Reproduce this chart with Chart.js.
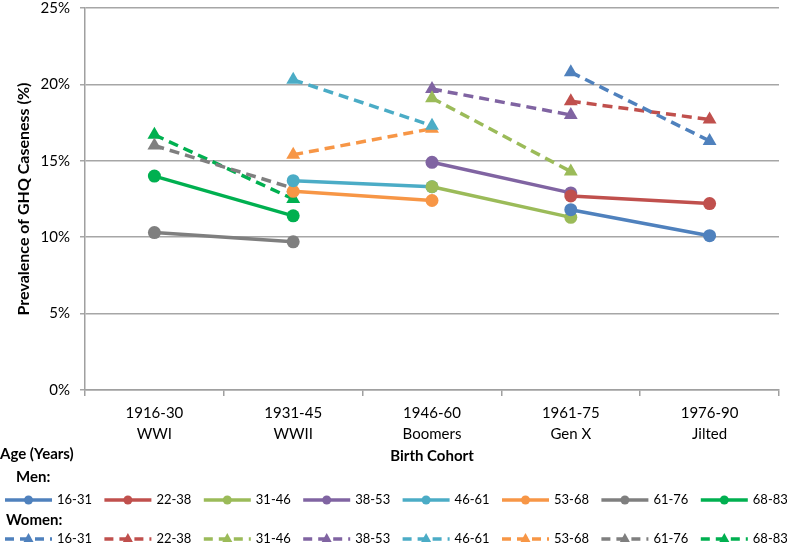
<!DOCTYPE html>
<html>
<head>
<meta charset="utf-8">
<script src="https://cdn.jsdelivr.net/npm/chart.js@4"></script>
<style>
  html, body { margin: 0; background: #fff; }
  #wrap { width: 787px; height: 544px; }
</style>
</head>
<body>
<div id="wrap"><canvas id="grafico"></canvas></div>
<script>
const cohortes = [['1916-30', 'WWI'], ['1931-45', 'WWII'], ['1946-60', 'Boomers'], ['1961-75', 'Gen X'], ['1976-90', 'Jilted']];
const edades = ['16-31', '22-38', '31-46', '38-53', '46-61', '53-68', '61-76', '68-83'];
const colores = ['#4F81BD', '#C0504D', '#9BBB59', '#8064A2', '#4BACC6', '#F79646', '#7F7F7F', '#00B050'];

// prevalencia (%) por cohorte, hombres
const hombres = [
  [null, null, null, 11.8, 10.1],
  [null, null, null, 12.7, 12.2],
  [null, null, 13.3, 11.3, null],
  [null, null, 14.9, 12.9, null],
  [null, 13.7, 13.3, null, null],
  [null, 13.0, 12.4, null, null],
  [10.3, 9.7, null, null, null],
  [14.0, 11.4, null, null, null]
];
// prevalencia (%) por cohorte, mujeres
const mujeres = [
  [null, null, null, 20.8, 16.3],
  [null, null, null, 18.9, 17.7],
  [null, null, 19.1, 14.3, null],
  [null, null, 19.7, 18.0, null],
  [null, 20.3, 17.3, null, null],
  [null, 15.4, 17.1, null, null],
  [16.0, 13.2, null, null, null],
  [16.7, 12.5, null, null, null]
];
const yTicks = [0, 5, 10, 15, 20, 25];

const fuente = 'Lato, "Open Sans", sans-serif';

const datasets = [];
edades.forEach((edad, i) => {
  datasets.push({
    label: 'Men ' + edad,
    data: hombres[i],
    borderColor: colores[i],
    backgroundColor: colores[i],
    borderWidth: 3.5,
    pointStyle: 'circle',
    pointRadius: 6.5,
    pointBorderWidth: 0,
    grupo: 0
  });
});
edades.forEach((edad, i) => {
  datasets.push({
    label: 'Women ' + edad,
    data: mujeres[i],
    borderColor: colores[i],
    backgroundColor: colores[i],
    borderWidth: 3.5,
    borderDash: [10, 6],
    pointStyle: 'triangle',
    pointRadius: 8,
    pointBorderWidth: 0,
    grupo: 1
  });
});

// leyenda agrupada dibujada a mano
const leyenda = {
  id: 'leyenda',
  afterDraw(chart) {
    const c = chart.ctx;
    const area = chart.chartArea;
    c.save();
    c.fillStyle = '#000';
    c.textBaseline = 'middle';
    c.font = 'bold 15px ' + fuente;
    c.textAlign = 'center';
    c.fillText('Birth Cohort', (area.left + area.right) / 2, 456);
    c.textAlign = 'left';
    c.fillText('Age (Years)', 0, 454);
    c.fillText('Men:', 16, 477);
    c.fillText('Women:', 6, 520);

    chart.data.datasets.forEach((ds, i) => {
      const col = i % 8;
      const y = ds.grupo === 0 ? 500 : 539;
      const x0 = 5 + col * 99.4;
      const x1 = x0 + 47;
      const xm = (x0 + x1) / 2;
      c.strokeStyle = ds.borderColor;
      c.fillStyle = ds.borderColor;
      c.lineWidth = 3.5;
      c.setLineDash(ds.borderDash ? [9, 6] : []);
      c.beginPath();
      c.moveTo(x0, y);
      c.lineTo(x1, y);
      c.stroke();
      c.setLineDash([]);
      c.beginPath();
      if (ds.pointStyle === 'circle') {
        c.arc(xm, y, 4.5, 0, Math.PI * 2);
      } else {
        c.moveTo(xm, y - 6);
        c.lineTo(xm + 5, y + 3);
        c.lineTo(xm - 5, y + 3);
        c.closePath();
      }
      c.fill();
      c.fillStyle = '#000';
      c.font = '13px ' + fuente;
      c.fillText(edades[col], x1 + 5, y);
    });
    c.restore();
  }
};

new Chart(document.getElementById('grafico'), {
  type: 'line',
  data: { labels: cohortes, datasets },
  options: {
    responsive: true,
    maintainAspectRatio: false,
    animation: false,
    spanGaps: false,
    layout: { padding: { top: 6, right: 8, left: 0, bottom: 0 } },
    plugins: {
      legend: { display: false },
      tooltip: { enabled: false }
    },
    scales: {
      x: {
        offset: true,
        afterFit: s => { s.height = 154; s.paddingLeft = 0; s.paddingRight = 0; },
        grid: {
          offset: true,
          drawOnChartArea: false,
          drawTicks: true,
          tickLength: 6,
          color: '#A0A0A0',
          lineWidth: 1.5
        },
        border: { color: '#A0A0A0', width: 1.5 },
        ticks: {
          color: '#000',
          padding: 6,
          maxRotation: 0,
          font: { family: fuente, size: 15, lineHeight: 1.45 }
        }
      },
      y: {
        min: 0,
        max: 25,
        afterFit: s => { s.width = 85; s.paddingTop = 0; s.paddingBottom = 0; },
        afterBuildTicks: s => { s.ticks = yTicks.map(v => ({ value: v })); },
        grid: {
          color: '#A6A6A6',
          lineWidth: 1.5,
          tickLength: 5
        },
        border: { color: '#A0A0A0', width: 1.5 },
        ticks: {
          color: '#000',
          padding: 10,
          font: { family: fuente, size: 15 },
          callback: v => v + '%'
        },
        title: {
          display: true,
          text: 'Prevalence of GHQ Caseness (%)',
          color: '#000',
          font: { family: fuente, size: 16, weight: 'bold' },
          padding: { top: 14, bottom: 0 }
        }
      }
    }
  },
  plugins: [leyenda]
});
</script>
</body>
</html>
